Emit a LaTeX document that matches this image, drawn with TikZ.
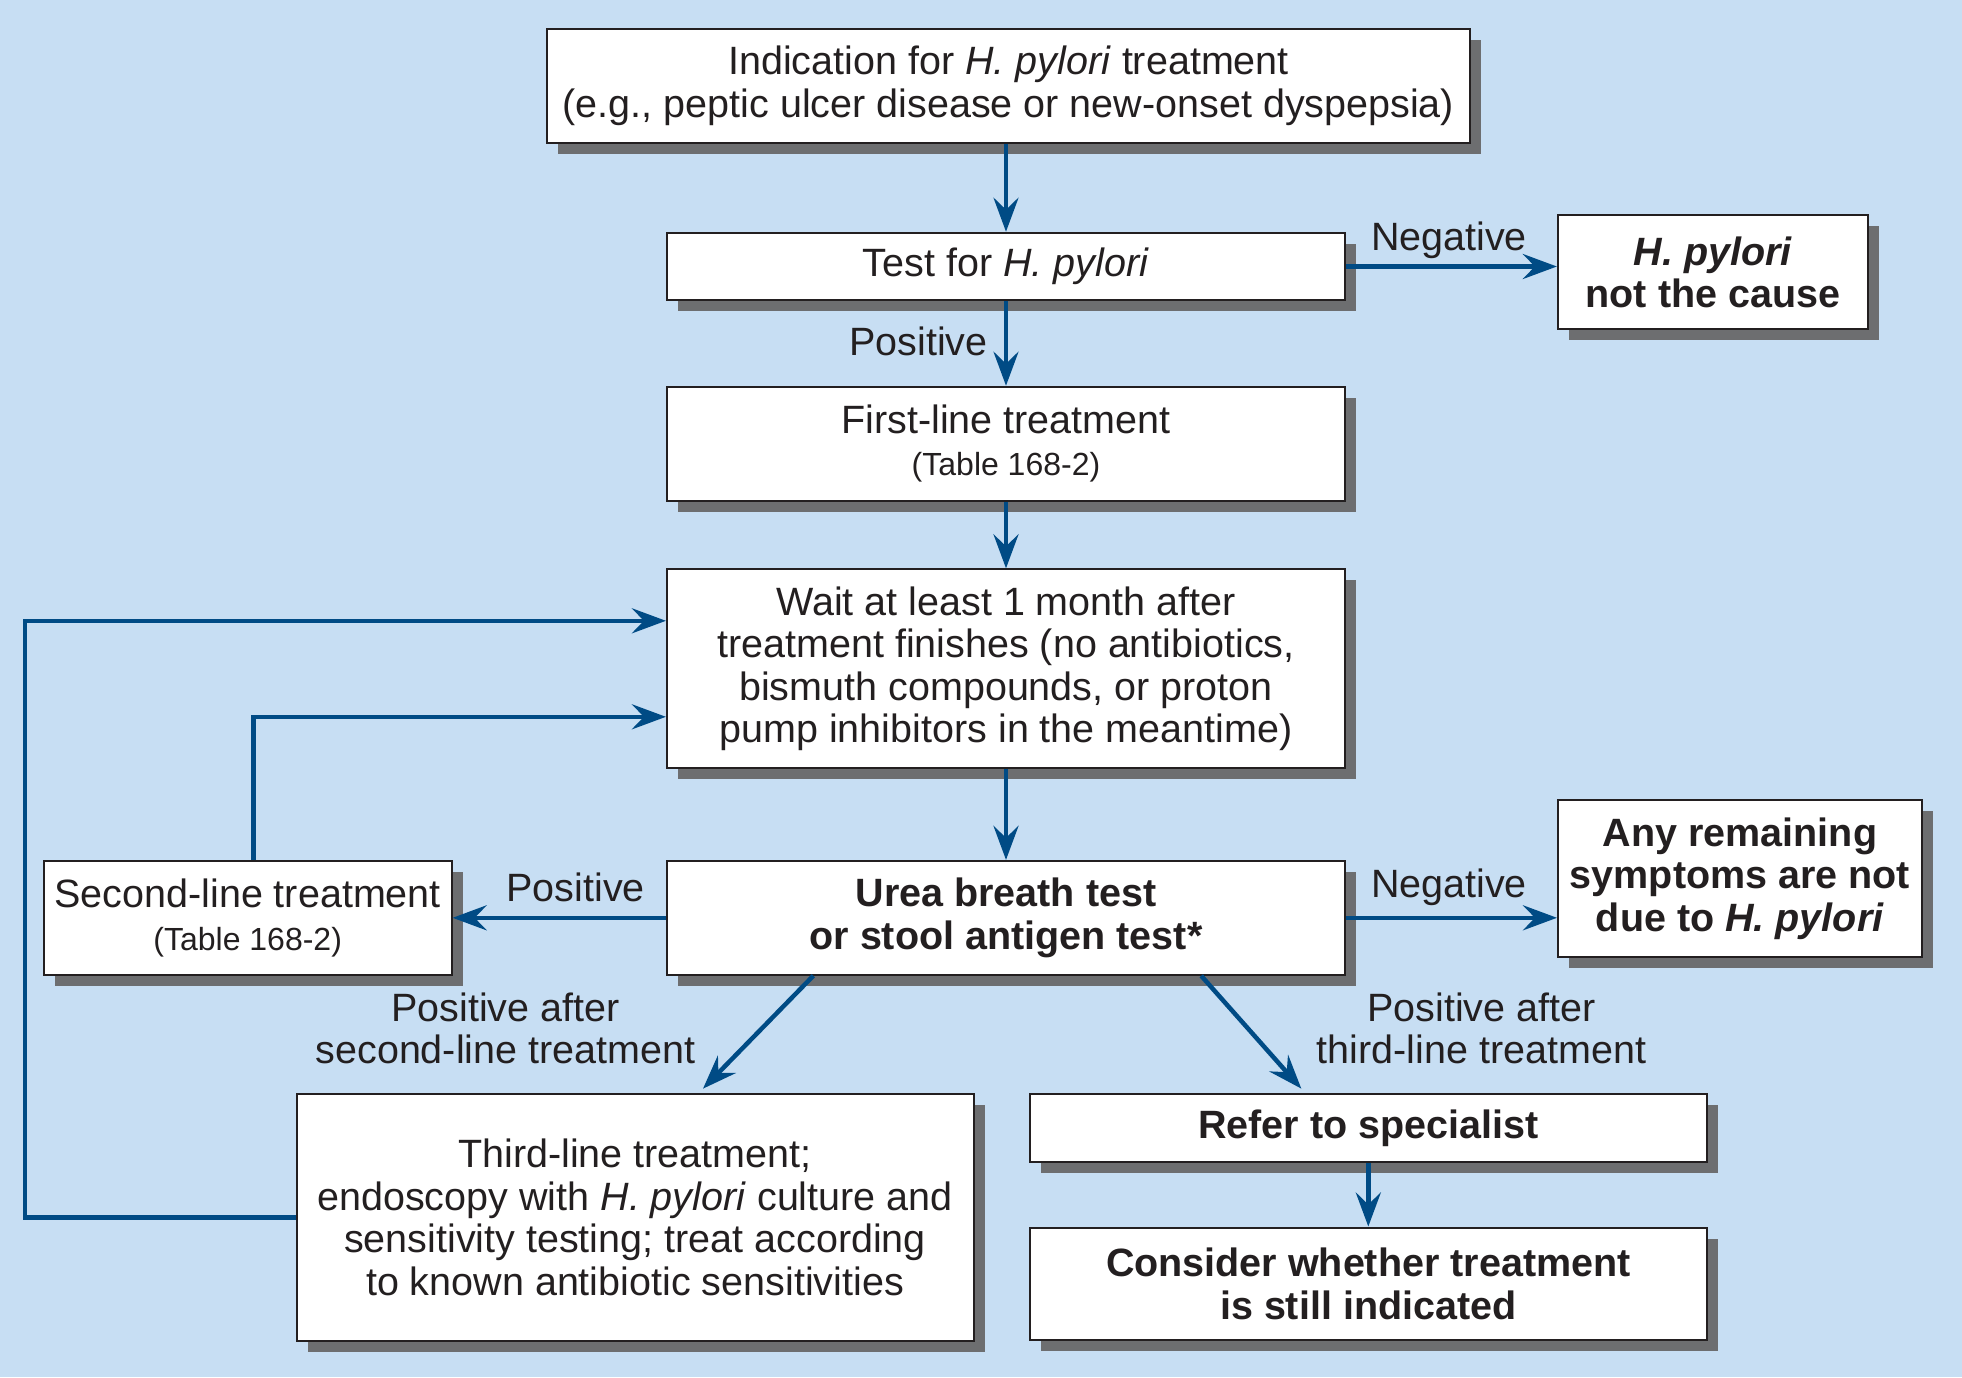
\documentclass[tikz,border=0pt]{standalone}
\usepackage{fontspec}
\setmainfont{Liberation Sans}
\usetikzlibrary{arrows.meta,shadows,calc}
\definecolor{bgblue}{HTML}{C7DEF3}
\definecolor{arrblue}{HTML}{004B85}
\definecolor{shgray}{HTML}{6D6E70}
\definecolor{bordk}{HTML}{231F20}
\newcommand\fs{\fontsize{39.5}{42.5}\selectfont}
\newcommand\smallfs{\fontsize{32}{36}\selectfont}
\tikzset{
 box/.style={draw=bordk, line width=2pt, fill=white, align=center, inner sep=0pt,
   font=\fs, text=bordk,
   drop shadow={shadow xshift=11pt, shadow yshift=-11pt, fill=shgray, opacity=1}},
 arr/.style={draw=arrblue, line width=4.5pt, -{Stealth[length=34pt,width=25pt,inset=12pt]}},
 lbl/.style={font=\fs, text=bordk, align=center, inner sep=0pt}
}
\begin{document}
\begin{tikzpicture}[x=1pt,y=-1pt]
\fill[bgblue] (0,0) rectangle (1962,1377);
\useasboundingbox (0,0) rectangle (1962,1377);

\node[box, minimum width=923.5pt, minimum height=113.8pt] (b1) at (1008.5,85.7)
  {Indication for \textit{H. pylori} treatment\\(e.g., peptic ulcer disease or new-onset dyspepsia)};
\node[box, minimum width=678.2pt, minimum height=67.6pt] (b2) at (1006,266.5)
  {Test for \textit{H. pylori}};
\node[box, minimum width=310.3pt, minimum height=113.9pt, font=\fs\bfseries] (nc) at (1713,272.2)
  {\textit{H. pylori}\\not the cause};
\node[box, minimum width=678.2pt, minimum height=113.8pt] (b3) at (1006,443.6)
  {First-line treatment\\{\smallfs (Table 168-2)}};
\node[box, minimum width=678.2pt, minimum height=199pt] (b4) at (1006,668.8)
  {Wait at least 1 month after\\treatment finishes (no antibiotics,\\bismuth compounds, or proton\\pump inhibitors in the meantime)};
\node[box, minimum width=678.2pt, minimum height=113.9pt, font=\fs\bfseries] (b5) at (1006,917.8)
  {Urea breath test\\or stool antigen test*};
\node[box, minimum width=407.9pt, minimum height=113.9pt] (sec) at (247.7,917.8)
  {Second-line treatment\\{\smallfs (Table 168-2)}};
\node[box, minimum width=364.1pt, minimum height=157.7pt, font=\fs\bfseries] (any) at (1740,878.4)
  {Any remaining\\symptoms are not\\due to \textit{H. pylori}};
\node[box, minimum width=677pt, minimum height=247.7pt] (third) at (635,1217.5)
  {Third-line treatment;\\endoscopy with \textit{H. pylori} culture and\\sensitivity testing; treat according\\to known antibiotic sensitivities};
\node[box, minimum width=677pt, minimum height=68.8pt, font=\fs\bfseries] (ref) at (1368.3,1128)
  {Refer to specialist};
\node[box, minimum width=677pt, minimum height=112.6pt, font=\fs\bfseries] (con) at (1368.3,1283.8)
  {Consider whether treatment\\is still indicated};

\node[lbl] (lpos1) at (918.5,341.6) {Positive};
\node[lbl] (lneg1) at (1449,240.3) {Negative};
\node[lbl] (lpos2) at (575.6,887.2) {Positive};
\node[lbl] (lneg2) at (1449,887.2) {Negative};
\node[lbl] (lpa2) at (505.5,1028.6) {Positive after\\second-line treatment};
\node[lbl] (lpa3) at (1481.5,1028.6) {Positive after\\third-line treatment};

\draw[arr] (b2.north |- b1.south) -- (b2.north);
\draw[arr] (b2.south) -- (b3.north);
\draw[arr] (b2.east) -- (nc.west |- b2.east);
\draw[arr] (b3.south) -- (b4.north);
\draw[arr] (b4.south) -- (b5.north);
\draw[arr] (b5.west) -- (sec.east);
\draw[arr] (b5.east) -- (any.west |- b5.east);
\draw[arr] ([xshift=-192.7pt]b5.south) -- ([xshift=68pt,yshift=4pt]third.north);
\draw[arr] ([xshift=195.2pt]b5.south) -- ([xshift=-67pt,yshift=4pt]ref.north);
\draw[arr] (ref.south) -- (con.north);
\draw[arr] ([xshift=6pt]sec.north) |- ([yshift=-48pt]b4.west);
\draw[arr] (third.west) -- ++(-270.3,0) |- ([yshift=48pt]b4.west);
\end{tikzpicture}
\end{document}
